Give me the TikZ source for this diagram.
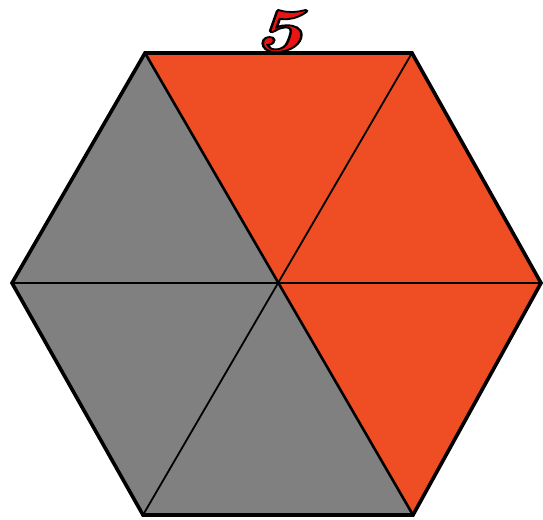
\documentclass[tikz,border=0pt]{standalone}
\definecolor{hexred}{RGB}{239,77,36}
\definecolor{hexgray}{RGB}{128,128,128}
\definecolor{numred}{RGB}{235,20,20}
\newcommand{\outlinetext}[1]{\special{pdf:literal direct 2 Tr 1.8 w 0 0 0 RG}#1\special{pdf:literal direct 0 Tr}}
\begin{document}
\begin{tikzpicture}[x=1pt,y=1pt,
  redtri/.style={fill=hexred},
  graytri/.style={fill=hexgray},
  inner/.style={draw=black,line width=1.8pt},
  outer/.style={draw=black,line width=3.6pt,line join=miter}]
\useasboundingbox (0,0) rectangle (543,519);
\coordinate (L) at (12,236);
\coordinate (R) at (541,236);
\coordinate (TL) at (145,466);
\coordinate (TR) at (412,466);
\coordinate (BL) at (143,4);
\coordinate (BR) at (413,4);
\coordinate (C) at (278,236);
\fill[graytri] (TL) -- (L) -- (C) -- cycle;
\fill[graytri] (L) -- (BL) -- (C) -- cycle;
\fill[graytri] (BL) -- (BR) -- (C) -- cycle;
\fill[redtri] (TL) -- (TR) -- (C) -- cycle;
\fill[redtri] (TR) -- (R) -- (C) -- cycle;
\fill[redtri] (R) -- (BR) -- (C) -- cycle;
\draw[inner] (L) -- (R);
\draw[inner] (TR) -- (BL);
\draw[inner,line width=2.6pt] (TL) -- (BR);
\draw[outer] (TL) -- (TR) -- (R) -- (BR) -- (BL) -- (L) -- cycle;
\node[inner sep=0pt,anchor=base,xscale=1.4] (five) at (278,468) {\fontsize{62}{62}\selectfont\bfseries\itshape\textcolor{numred}{\outlinetext{5}}};
\end{tikzpicture}
\end{document}
